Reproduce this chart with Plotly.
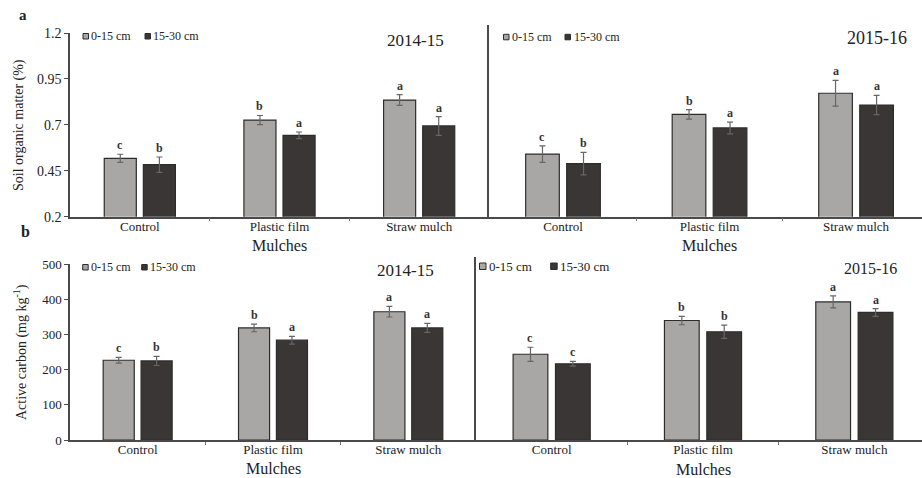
import plotly.graph_objects as go

W, H = 922, 478
FONT = "Liberation Serif"

mulches = ["Control", "Plastic film", "Straw mulch"]
depths = ["0-15 cm", "15-30 cm"]
seasons = ["2014-15", "2015-16"]

# Soil organic matter (%): means and error bars
som_2014_shallow = [0.518, 0.726, 0.835]
som_2014_shallow_err = [0.022, 0.025, 0.029]
som_2014_deep = [0.483, 0.643, 0.694]
som_2014_deep_err = [0.042, 0.018, 0.051]
som_2015_shallow = [0.541, 0.757, 0.872]
som_2015_shallow_err = [0.045, 0.026, 0.070]
som_2015_deep = [0.489, 0.683, 0.808]
som_2015_deep_err = [0.061, 0.032, 0.052]

# Active carbon (mg kg-1): means and error bars
ac_2014_shallow = [227, 319, 365]
ac_2014_shallow_err = [8, 11, 15]
ac_2014_deep = [225, 284, 319]
ac_2014_deep_err = [13, 11, 13]
ac_2015_shallow = [244, 340, 393]
ac_2015_shallow_err = [20, 12, 17]
ac_2015_deep = [217, 308, 363]
ac_2015_deep_err = [7, 19, 11]

# Significance letters
som_2014_shallow_sig = ["c", "b", "a"]
som_2014_deep_sig = ["b", "a", "a"]
som_2015_shallow_sig = ["c", "b", "a"]
som_2015_deep_sig = ["b", "a", "a"]
ac_2014_shallow_sig = ["c", "b", "a"]
ac_2014_deep_sig = ["b", "a", "a"]
ac_2015_shallow_sig = ["c", "b", "a"]
ac_2015_deep_sig = ["c", "b", "a"]

som_ticks = [0.2, 0.45, 0.7, 0.95, 1.2]
som_ticktext = ["0.2", "0.45", "0.7", "0.95", "1.2"]
ac_ticks = [0, 100, 200, 300, 400, 500]

LIGHT = "#a9a7a5"
DARK = "#3a3636"
EDGE = "#2c2c2c"
AXIS = "#4a4a4a"
TXT = "#222222"


def px(x):
    return x / W


def py(y):
    return 1 - y / H


def note(x, y, text, size, **kw):
    d = dict(x=x, y=y, xref="paper", yref="paper", text=text, showarrow=False,
             xanchor="center", yanchor="middle", font=dict(family=FONT, size=size, color=TXT))
    d.update(kw)
    return d


panels = [
    dict(ax="", mul_y=246,
         series=[(som_2014_shallow, som_2014_shallow_err, som_2014_shallow_sig),
                 (som_2014_deep, som_2014_deep_err, som_2014_deep_sig)]),
    dict(ax="2", mul_y=246,
         series=[(som_2015_shallow, som_2015_shallow_err, som_2015_shallow_sig),
                 (som_2015_deep, som_2015_deep_err, som_2015_deep_sig)]),
    dict(ax="3", mul_y=468,
         series=[(ac_2014_shallow, ac_2014_shallow_err, ac_2014_shallow_sig),
                 (ac_2014_deep, ac_2014_deep_err, ac_2014_deep_sig)]),
    dict(ax="4", mul_y=469,
         series=[(ac_2015_shallow, ac_2015_shallow_err, ac_2015_shallow_sig),
                 (ac_2015_deep, ac_2015_deep_err, ac_2015_deep_sig)]),
]

xpos = list(range(len(mulches)))
fig = go.Figure()
annotations = []
OFFS = [-0.14, 0.14]

for p in panels:
    for k, (vals, errs, sig) in enumerate(p["series"]):
        fig.add_trace(go.Bar(
            x=xpos, y=vals, name=depths[k], showlegend=False,
            xaxis="x" + p["ax"], yaxis="y" + p["ax"],
            marker=dict(color=[LIGHT, DARK][k], line=dict(color=EDGE, width=1.2)),
            error_y=dict(type="data", array=errs, color="#666666", thickness=1.2, width=3),
        ))
        for i, (v, e, s) in enumerate(zip(vals, errs, sig)):
            annotations.append(dict(
                x=xpos[i] + OFFS[k], y=v + e, xref="x" + p["ax"], yref="y" + p["ax"],
                text="<b>%s</b>" % s, showarrow=False, xanchor="center", yanchor="bottom",
                font=dict(family=FONT, size=12, color="#333333")))
    annotations.append(dict(
        x=1, xref="x" + p["ax"], y=py(p["mul_y"]), yref="paper", text="Mulches",
        showarrow=False, xanchor="center", yanchor="middle",
        font=dict(family=FONT, size=16, color=TXT)))

# season titles
annotations += [
    note(px(415), py(40), seasons[0], 17),
    note(px(877), py(38), seasons[1], 18),
    note(px(405), py(270), seasons[0], 17),
    note(px(870), py(268), seasons[1], 16),
]

# axis titles and panel letters
annotations += [
    note(px(19), py(125), "Soil organic matter (%)", 14, textangle=-90),
    note(px(20), py(352), "Active carbon (mg kg<sup>-1</sup>)", 14, textangle=-90),
    note(px(23), py(15), "<b>a</b>", 15),
    note(px(25), py(232), "<b>b</b>", 16),
]

# depth keys for each panel: (square left, square top, size, text left, font size)
shapes = []
keys = [
    [(83, 33.5, 5.5, 89, 12), (145, 33.5, 5.5, 151, 12)],
    [(503.5, 34.3, 5.5, 510, 12), (565, 34.3, 5.5, 572, 12)],
    [(82.7, 264.5, 5.5, 89, 12), (141.7, 264.5, 5.5, 148, 12)],
    [(479.5, 263, 6.5, 487, 13), (550.7, 263, 6.5, 558, 13)],
]
for panel_keys in keys:
    for k, (sx, sy, ss, tx, fs) in enumerate(panel_keys):
        shapes.append(dict(type="rect", xref="paper", yref="paper",
                           x0=px(sx), x1=px(sx + ss), y0=py(sy + ss), y1=py(sy),
                           fillcolor=[LIGHT, DARK][k], line=dict(color=EDGE, width=1)))
        annotations.append(note(px(tx), py(sy + ss / 2), depths[k], fs, xanchor="left"))


def xaxis(domain, rng, anchor):
    return dict(domain=domain, range=rng, anchor=anchor, tickmode="array", tickvals=xpos,
                ticktext=mulches, ticks="", showgrid=False, zeroline=False, showline=True,
                linecolor=AXIS, linewidth=1.5, fixedrange=True, automargin=False,
                ticklabelstandoff=-3,
                tickfont=dict(family=FONT, size=13, color=TXT),
                minor=dict(tickmode="array", tickvals=[0.5, 1.5], ticks="outside",
                           ticklen=3, tickcolor="#777777", showgrid=False))


def yaxis(domain, rng, anchor, ticks=None, ticktext=None, fs=13):
    d = dict(domain=domain, range=rng, anchor=anchor, showgrid=False, zeroline=False,
             showline=True, linecolor=AXIS, linewidth=1.5, fixedrange=True, automargin=False)
    if ticks is None:
        d.update(showticklabels=False, ticks="")
    else:
        d.update(tickmode="array", tickvals=ticks, ticktext=ticktext, ticks="outside",
                 ticklen=4, tickcolor=AXIS, tickfont=dict(family=FONT, size=fs, color=TXT))
    return d


som_bottom, som_px = 216.7, 183.7
ac_bottom, ac_px = 440.0, 0.3514

fig.update_layout(
    template="none",
    width=W, height=H, margin=dict(l=0, r=0, t=0, b=0, pad=0),
    paper_bgcolor="white", plot_bgcolor="white",
    barmode="group", bargap=0.44, bargroupgap=0.18,
    showlegend=False,
    xaxis=xaxis([px(70), px(489)], [-0.5, 2.5], "y"),
    xaxis2=xaxis([px(489), 1.0], [-0.505, 2.45], "y2"),
    xaxis3=xaxis([px(70), px(476)], [-0.5, 2.5], "y3"),
    xaxis4=xaxis([px(476), 1.0], [-0.5, 2.447], "y4"),
    yaxis=yaxis([py(som_bottom), py(33)], [0.2, 1.2], "x", som_ticks, som_ticktext, 14),
    yaxis2=yaxis([py(som_bottom), py(25)], [0.2, 0.2 + (som_bottom - 25) / som_px], "x2"),
    yaxis3=yaxis([py(ac_bottom), py(264.3)], [0, 500], "x3", ac_ticks, [str(t) for t in ac_ticks], 13),
    yaxis4=yaxis([py(ac_bottom), py(256.7)], [0, (ac_bottom - 256.7) / ac_px], "x4"),
    annotations=annotations,
    shapes=shapes,
)

fig.write_html("out.html")
